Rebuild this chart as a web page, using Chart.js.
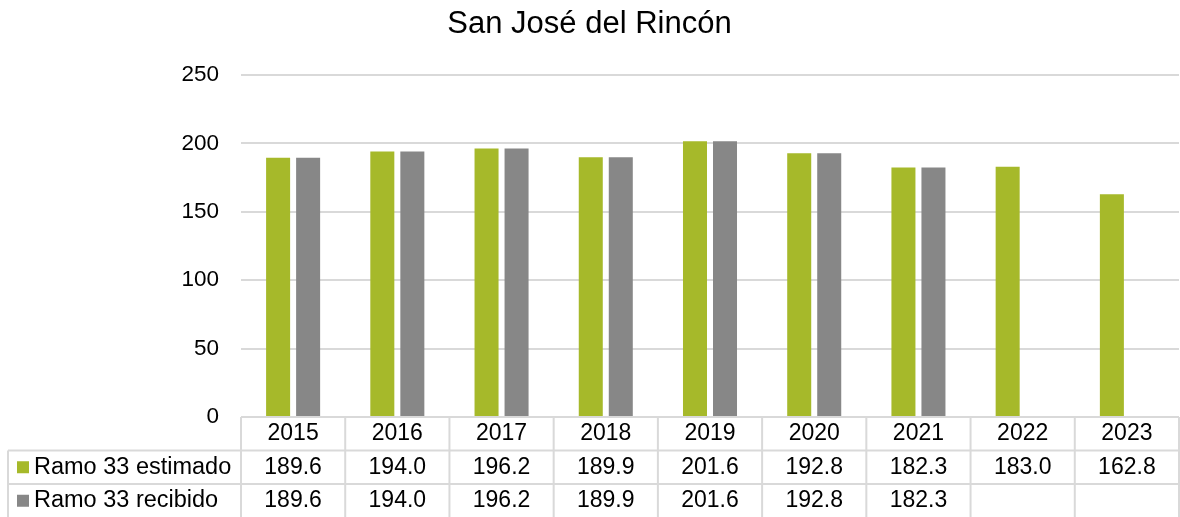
<!DOCTYPE html>
<html>
<head>
<meta charset="utf-8">
<script src="https://cdn.jsdelivr.net/npm/chart.js@4.4.1/dist/chart.umd.min.js"></script>
<style>
  html, body { margin: 0; padding: 0; background: #fff; }
  #wrap { width: 1180px; height: 517px; position: relative; }
</style>
</head>
<body>
<div id="wrap"><canvas id="chart"></canvas></div>
<script>
// --- datos ---
const TITULO = 'San José del Rincón';
const anios = ['2015', '2016', '2017', '2018', '2019', '2020', '2021', '2022', '2023'];
const estimado = [189.6, 194.0, 196.2, 189.9, 201.6, 192.8, 182.3, 183.0, 162.8];
const recibido = [189.6, 194.0, 196.2, 189.9, 201.6, 192.8, 182.3, null, null];
const nombresSeries = ['Ramo 33 estimado', 'Ramo 33 recibido'];
const coloresSeries = ['#a6b92a', '#878787'];

const FUENTE = '"Liberation Sans", Arial, sans-serif';
const BORDE = '#d9d9d9';

// tabla de datos debajo de la grafica
const tablaPlugin = {
    id: 'tablaDatos',
    afterDraw(chart) {
        const ctx = chart.ctx;
        const x = chart.scales.x;
        const area = chart.chartArea;
        const colW = (x.right - x.left) / anios.length;
        const rowH = 33.5;
        const top = area.bottom;
        const izq = 8;
        const series = [estimado, recibido];

        ctx.save();
        ctx.strokeStyle = BORDE;
        ctx.lineWidth = 2;
        ctx.beginPath();
        // linea superior (eje cero)
        ctx.moveTo(x.left, top);
        ctx.lineTo(x.right, top);
        // lineas horizontales de las filas
        for (let r = 1; r <= 2; r++) {
            ctx.moveTo(izq, top + r * rowH);
            ctx.lineTo(x.right, top + r * rowH);
        }
        // verticales
        for (let i = 0; i <= anios.length; i++) {
            const px = x.left + i * colW;
            ctx.moveTo(px, top);
            ctx.lineTo(px, chart.height + 2);
        }
        ctx.moveTo(izq, top + rowH);
        ctx.lineTo(izq, chart.height + 2);
        ctx.stroke();

        ctx.fillStyle = '#000';
        ctx.font = '23px ' + FUENTE;
        ctx.textAlign = 'center';
        ctx.textBaseline = 'middle';
        anios.forEach((a, i) => {
            const cx = x.getPixelForValue(i);
            ctx.fillText(a, cx, top + rowH / 2);
            series.forEach((s, r) => {
                if (s[i] !== null) {
                    ctx.fillText(s[i].toFixed(1), cx, top + rowH * (r + 1.5));
                }
            });
        });

        // leyenda en la primera columna
        ctx.textAlign = 'left';
        ctx.font = '23.5px ' + FUENTE;
        nombresSeries.forEach((n, r) => {
            const cy = top + rowH * (r + 1.5);
            ctx.fillStyle = coloresSeries[r];
            ctx.fillRect(17, cy - 6, 12, 12);
            ctx.fillStyle = '#000';
            ctx.fillText(n, 34, cy);
        });
        ctx.restore();
    }
};

new Chart(document.getElementById('chart'), {
    type: 'bar',
    data: {
        labels: anios,
        datasets: [
            { label: nombresSeries[0], data: estimado, backgroundColor: coloresSeries[0] },
            { label: nombresSeries[1], data: recibido, backgroundColor: coloresSeries[1] }
        ]
    },
    options: {
        responsive: true,
        maintainAspectRatio: false,
        animation: false,
        categoryPercentage: 0.576,
        barPercentage: 0.8,
        layout: { padding: { top: 0, right: 1, bottom: 100, left: 0 } },
        plugins: {
            legend: { display: false },
            tooltip: { enabled: false },
            title: {
                display: true,
                text: TITULO,
                color: '#000',
                font: { family: FUENTE, size: 31, weight: 'normal' },
                padding: { top: 6, bottom: 31.8 }
            }
        },
        scales: {
            x: { display: false },
            y: {
                min: 0,
                max: 250,
                afterFit(scale) { scale.width = 241; },
                ticks: {
                    stepSize: 50,
                    padding: 22,
                    color: '#000',
                    font: { family: FUENTE, size: 22.5 }
                },
                grid: { color: BORDE, lineWidth: 2, drawTicks: false },
                border: { display: false }
            }
        }
    },
    plugins: [tablaPlugin]
});
</script>
</body>
</html>
